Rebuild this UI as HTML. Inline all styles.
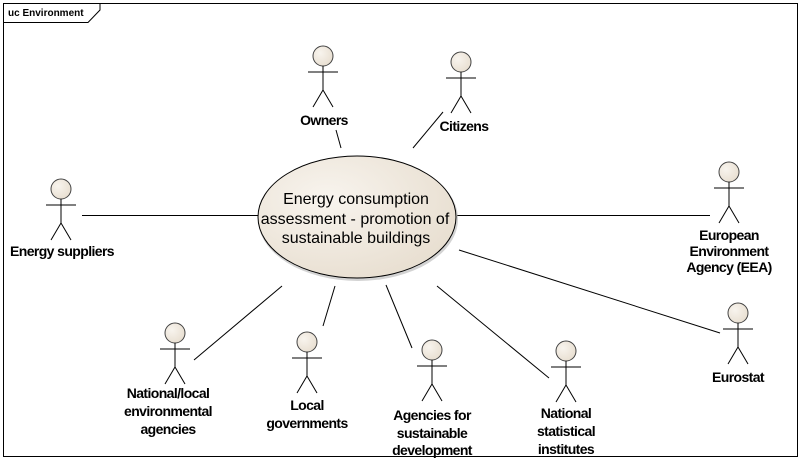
<!DOCTYPE html>
<html><head><style>
html,body{margin:0;padding:0;background:#fff;}
svg{display:block;}
.lb{font-family:"Liberation Sans",Arial,sans-serif;font-weight:bold;font-size:14px;letter-spacing:-0.6px;fill:#000;}
</style></head><body>
<svg width="802" height="460" viewBox="0 0 802 460" xmlns="http://www.w3.org/2000/svg">
<defs>
<radialGradient id="g" cx="0.35" cy="0.35" r="0.8">
<stop offset="0" stop-color="#f8f4ee"/><stop offset="1" stop-color="#e6dccd"/>
</radialGradient>
<g id="a" stroke="#000" stroke-width="1" fill="none">
<circle cx="0" cy="0" r="10" fill="url(#g)" stroke="#444"/>
<line x1="0" y1="10" x2="0" y2="34"/>
<line x1="-15" y1="16" x2="15" y2="16"/>
<line x1="0" y1="34" x2="-10" y2="51"/>
<line x1="0" y1="34" x2="10" y2="51"/>
</g>
</defs>
<rect x="3.5" y="3.5" width="794" height="453" fill="#fff" stroke="#000"/>
<path d="M3.5 22.5 H88 L100 10 V3.5" fill="none" stroke="#000"/>
<text x="8" y="16" font-family="Liberation Sans,Arial,sans-serif" font-weight="bold" font-size="10" fill="#000">uc Environment</text>

<g stroke="#000" stroke-width="1">
<line x1="82" y1="215.5" x2="258" y2="215.5"/>
<line x1="457" y1="215.5" x2="710" y2="215.5"/>
<line x1="459" y1="250" x2="720" y2="333"/>
<line x1="282" y1="286" x2="194" y2="360"/>
<line x1="335" y1="286" x2="323" y2="326"/>
<line x1="386" y1="285" x2="412" y2="348"/>
<line x1="437" y1="286" x2="549" y2="378"/>
<line x1="336" y1="130" x2="341" y2="148"/>
<line x1="443" y1="112" x2="413" y2="148"/>
</g>

<ellipse cx="358" cy="219" rx="100" ry="62" fill="#a8a8a8" opacity="0.5"/>
<ellipse cx="357" cy="217" rx="99" ry="61" fill="url(#g)" stroke="#000"/>
<g font-family="Liberation Sans,Arial,sans-serif" font-size="16" fill="#000" text-anchor="middle">
<text x="356" y="204">Energy consumption</text>
<text x="355" y="224">assessment - promotion of</text>
<text x="356" y="243">sustainable buildings</text>
</g>

<use href="#a" x="323" y="56"/>
<use href="#a" x="461" y="62"/>
<use href="#a" x="61" y="189"/>
<use href="#a" x="729" y="172"/>
<use href="#a" x="738" y="313"/>
<use href="#a" x="175" y="333"/>
<use href="#a" x="307" y="342"/>
<use href="#a" x="432" y="350"/>
<use href="#a" x="566" y="351"/>

<g class="lb" text-anchor="middle">
<text x="324" y="125">Owners</text>
<text x="464" y="131">Citizens</text>
<text x="62" y="256">Energy suppliers</text>
<text x="729" y="240">European</text>
<text x="729" y="256">Environment</text>
<text x="729" y="272">Agency (EEA)</text>
<text x="738" y="382">Eurostat</text>
<text x="168" y="398">National/local</text>
<text x="168" y="416">environmental</text>
<text x="168" y="434">agencies</text>
<text x="307" y="410">Local</text>
<text x="307" y="428">governments</text>
<text x="432" y="420">Agencies for</text>
<text x="432" y="438">sustainable</text>
<text x="432" y="455">development</text>
<text x="566" y="418">National</text>
<text x="566" y="436">statistical</text>
<text x="566" y="454">institutes</text>
</g>
</svg>
</body></html>
